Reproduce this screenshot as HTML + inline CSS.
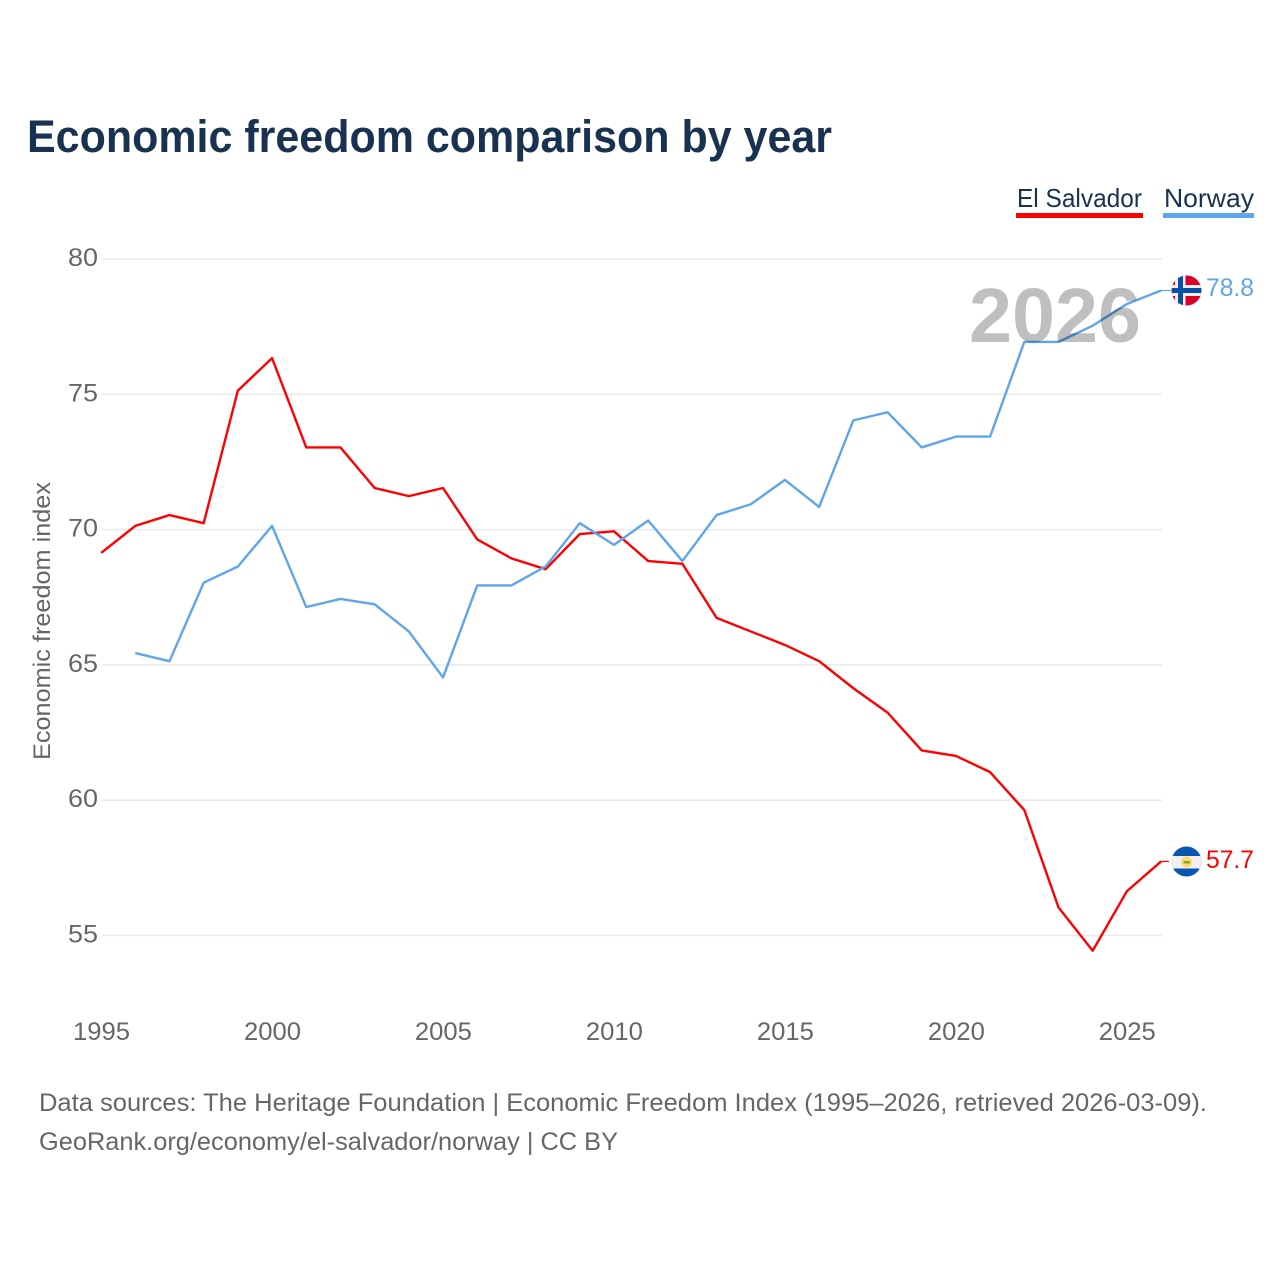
<!DOCTYPE html>
<html lang="en">
<head>
<meta charset="utf-8">
<title>Economic freedom comparison by year</title>
<style>
html,body{margin:0;padding:0;background:#fff;width:1280px;height:1280px;overflow:hidden}
svg{display:block}
text{font-family:"Liberation Sans",sans-serif}
</style>
</head>
<body>
<svg id="chart" xmlns="http://www.w3.org/2000/svg" width="1280" height="1280" viewBox="0 0 1280 1280">
  <rect x="0" y="0" width="1280" height="1280" fill="#fff"/>
  <text x="27" y="152" font-size="45" font-weight="700" fill="#18324f" textLength="805" lengthAdjust="spacingAndGlyphs">Economic freedom comparison by year</text>

  <g id="gridlayer"></g>
  <g id="ylabels"></g>
  <g id="xlabels"></g>
  <text transform="translate(50,621) rotate(-90)" text-anchor="middle" font-size="24" fill="#666" textLength="278" lengthAdjust="spacingAndGlyphs">Economic freedom index</text>

  <g id="serieslayer"></g>

  <text x="1141" y="342" text-anchor="end" font-size="77" font-weight="700" fill="#000" fill-opacity="0.25" textLength="172" lengthAdjust="spacingAndGlyphs">2026</text>

  <g>
    <text x="1017" y="207" font-size="26" fill="#18324f" textLength="125" lengthAdjust="spacingAndGlyphs">El Salvador</text>
    <rect x="1016" y="213" width="127" height="5" fill="#ff0000"/>
  </g>
  <g>
    <text x="1164" y="207" font-size="26" fill="#18324f" textLength="90" lengthAdjust="spacingAndGlyphs">Norway</text>
    <rect x="1163" y="213" width="91" height="5" fill="#5fa5ec"/>
  </g>

  <defs>
    <clipPath id="clipNo"><circle cx="1186.5" cy="290.5" r="15"/></clipPath>
    <clipPath id="clipSv"><circle cx="1186.5" cy="861.5" r="15"/></clipPath>
  </defs>
  <g clip-path="url(#clipNo)">
    <rect x="1170" y="274" width="34" height="34" fill="#d80027"/>
    <rect x="1175" y="274" width="10.5" height="34" fill="#f0f0f0"/>
    <rect x="1170" y="285" width="34" height="11" fill="#f0f0f0"/>
    <rect x="1178" y="274" width="5" height="34" fill="#0a4fa6"/>
    <rect x="1170" y="288" width="34" height="5" fill="#0a4fa6"/>
  </g>
  <g clip-path="url(#clipSv)">
    <rect x="1170" y="845" width="34" height="34" fill="#0a55b0"/>
    <rect x="1170" y="856" width="34" height="12.5" fill="#f0f0f0"/>
    <circle cx="1186.7" cy="862" r="5.5" fill="#ffda6b"/>
    <rect x="1183.5" y="861" width="6.5" height="2.5" fill="#7fa83a"/>
  </g>
  <text x="1206" y="296" font-size="25" fill="#5fa5ec" textLength="48" lengthAdjust="spacingAndGlyphs">78.8</text>
  <text x="1206" y="868" font-size="25" fill="#ff0000" textLength="48" lengthAdjust="spacingAndGlyphs">57.7</text>

  <text x="39" y="1111" font-size="25" fill="#666" textLength="1168" lengthAdjust="spacingAndGlyphs">Data sources: The Heritage Foundation | Economic Freedom Index (1995–2026, retrieved 2026-03-09).</text>
  <text x="39" y="1150" font-size="25" fill="#666" textLength="579" lengthAdjust="spacingAndGlyphs">GeoRank.org/economy/el-salvador/norway | CC BY</text>
</svg>
<script>
const years = [1995,1996,1997,1998,1999,2000,2001,2002,2003,2004,2005,2006,2007,2008,2009,2010,2011,2012,2013,2014,2015,2016,2017,2018,2019,2020,2021,2022,2023,2024,2025,2026];
const elSalvador = [69.1,70.1,70.5,70.2,75.1,76.3,73.0,73.0,71.5,71.2,71.5,69.6,68.9,68.5,69.8,69.9,68.8,68.7,66.7,66.2,65.7,65.1,64.1,63.2,61.8,61.6,61.0,59.6,56.0,54.4,56.6,57.7];
const norway = [null,65.4,65.1,68.0,68.6,70.1,67.1,67.4,67.2,66.2,64.5,67.9,67.9,68.6,70.2,69.4,70.3,68.8,70.5,70.9,71.8,70.8,74.0,74.3,73.0,73.4,73.4,76.9,76.9,77.5,78.3,78.8];
const yTicks = [55,60,65,70,75,80];
const xTicks = [1995,2000,2005,2010,2015,2020,2025];

const NS = 'http://www.w3.org/2000/svg';
function xScale(year){ return 101.5 + (year - 1995) * (1161.5 - 101.5) / 31; }
function yScale(v){ return 935.5 - (v - 55) * (935.5 - 259) / 25; }
function lineY(v){ return yScale(v) - 1; }

const gridLayer = document.getElementById('gridlayer');
const yLabels = document.getElementById('ylabels');
const xLabels = document.getElementById('xlabels');
const seriesLayer = document.getElementById('serieslayer');

yTicks.forEach(function(t){
  const line = document.createElementNS(NS,'line');
  
  
  line.setAttribute('x1', 102);
  line.setAttribute('x2', 1162);
  line.setAttribute('y1', yScale(t));
  line.setAttribute('y2', yScale(t));
  line.setAttribute('stroke', '#eaeaea');
  line.setAttribute('stroke-width', '1.5');
  gridLayer.appendChild(line);

  const label = document.createElementNS(NS,'text');
  
  
  label.setAttribute('x', 98);
  label.setAttribute('y', yScale(t) + 7);
  label.setAttribute('text-anchor', 'end');
  label.setAttribute('font-size', '25');
  label.setAttribute('fill', '#666');
  label.setAttribute('textLength', '30');
  label.setAttribute('lengthAdjust', 'spacingAndGlyphs');
  label.textContent = String(t);
  yLabels.appendChild(label);
});

xTicks.forEach(function(t){
  const label = document.createElementNS(NS,'text');
  
  
  label.setAttribute('x', xScale(t));
  label.setAttribute('y', 1040);
  label.setAttribute('text-anchor', 'middle');
  label.setAttribute('font-size', '25');
  label.setAttribute('fill', '#666');
  label.setAttribute('textLength', '57');
  label.setAttribute('lengthAdjust', 'spacingAndGlyphs');
  label.textContent = String(t);
  xLabels.appendChild(label);
});

function buildPath(values){
  let d = '';
  values.forEach(function(v,i){
    if (v === null) return;
    d += (d ? 'L' : 'M') + (xScale(years[i]) - 0.4).toFixed(2) + ' ' + lineY(v).toFixed(2);
  });
  return d;
}

const redLine = document.createElementNS(NS,'path');


redLine.setAttribute('d', buildPath(elSalvador));
redLine.setAttribute('fill', 'none');
redLine.setAttribute('stroke', '#ff0000');
redLine.setAttribute('stroke-width', '2.4');
redLine.setAttribute('stroke-linejoin', 'round');
seriesLayer.appendChild(redLine);

const blueLine = document.createElementNS(NS,'path');


blueLine.setAttribute('d', buildPath(norway));
blueLine.setAttribute('fill', 'none');
blueLine.setAttribute('stroke', '#5fa5ec');
blueLine.setAttribute('stroke-width', '2.4');
blueLine.setAttribute('stroke-linejoin', 'round');
seriesLayer.appendChild(blueLine);

const redLink = document.createElementNS(NS,'line');


redLink.setAttribute('x1', xScale(2026) - 0.4);
redLink.setAttribute('x2', 1169);
redLink.setAttribute('y1', lineY(elSalvador[elSalvador.length - 1]));
redLink.setAttribute('y2', lineY(elSalvador[elSalvador.length - 1]));
redLink.setAttribute('stroke', '#ff0000');
redLink.setAttribute('stroke-width', '1.2');
seriesLayer.appendChild(redLink);

const blueLink = document.createElementNS(NS,'line');


blueLink.setAttribute('x1', xScale(2026) - 0.4);
blueLink.setAttribute('x2', 1171);
blueLink.setAttribute('y1', lineY(norway[norway.length - 1]));
blueLink.setAttribute('y2', lineY(norway[norway.length - 1]));
blueLink.setAttribute('stroke', '#5fa5ec');
blueLink.setAttribute('stroke-width', '1.2');
seriesLayer.appendChild(blueLink);
</script>
</body>
</html>
